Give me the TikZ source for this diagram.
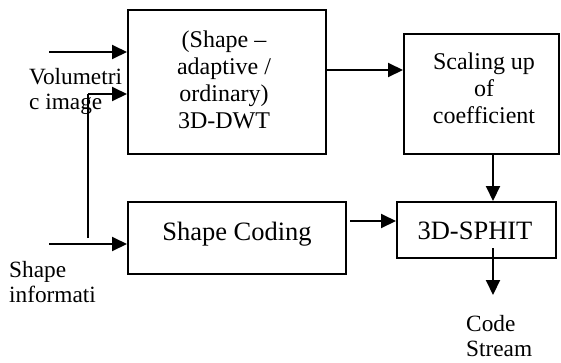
\documentclass[tikz,border=0pt]{standalone}
\usepackage{fontspec}
\setmainfont{Liberation Serif}
\usetikzlibrary{arrows.meta}

\begin{document}
\begin{tikzpicture}[x=1pt,y=-1pt,
    box/.style={draw, line width=2pt, rectangle, inner sep=0pt},
    boxtext/.style={inner sep=0pt, align=center, font=\fontsize{24}{27}\selectfont},
    bigtext/.style={inner sep=0pt, font=\fontsize{26.5}{30}\selectfont},
    sidetext/.style={inner sep=0pt, align=left, anchor=north west,
                     font=\fontsize{23.3}{25}\selectfont},
    arr/.style={line width=2pt, -{Triangle[length=15pt,width=14pt]}},
    plain/.style={line width=1.8pt}]
  \useasboundingbox (0,0) rectangle (561,362);

  % processing blocks
  \node[box, minimum width=198pt, minimum height=144pt] (dwt)   at (227,82) {};
  \node[box, minimum width=155pt, minimum height=120pt] (scale) at (481.5,94) {};
  \node[box, minimum width=218pt, minimum height=72pt]  (shcod) at (237,238) {};
  \node[box, minimum width=159pt, minimum height=56pt]  (sphit) at (476.5,230) {};

  % block captions
  \node[boxtext] (tdwt)   at (224,80) {(Shape –\\adaptive /\\ordinary)\\3D-DWT};
  \node[boxtext] (tscale) at (484,88) {Scaling up\\of\\coefficient};
  \node[bigtext, anchor=base] (tshcod) at (237,240) {Shape Coding};
  \node[bigtext, anchor=base] (tsphit) at (475,239) {3D-SPHIT};

  % input and output labels
  \node[sidetext] (lvol)  at (29,68.6)  {Volumetri\\c image};
  \node[sidetext] (lshp)  at (9,261.6)  {Shape\\informati};
  \node[sidetext] (lcode) at (466,315.6) {Code\\Stream};

  % free ends of the connectors
  \coordinate (in1)  at (49,52);
  \coordinate (vtop) at (88,94);
  \coordinate (vbot) at (88,238);
  \coordinate (in2)  at (49,244);
  \coordinate (mid)  at (0,70);
  \coordinate (colx) at (493,0);
  \coordinate (row)  at (350,221);
  \coordinate (ostart) at (493,248);
  \coordinate (oend)   at (493,295);

  % connectors
  \draw[arr] (in1) -- (in1 -| dwt.west);
  \draw[plain] (vbot) -- (vtop);
  \draw[arr] (vtop) -- (vtop -| dwt.west);
  \draw[arr] (in2) -- (in2 -| shcod.west);
  \draw[arr] (dwt.east |- mid) -- (scale.west |- mid);
  \draw[arr] (colx |- scale.south) -- (colx |- sphit.north);
  \draw[arr] (row) -- (row -| sphit.west);
  \draw[arr] (ostart) -- (oend);
\end{tikzpicture}
\end{document}
